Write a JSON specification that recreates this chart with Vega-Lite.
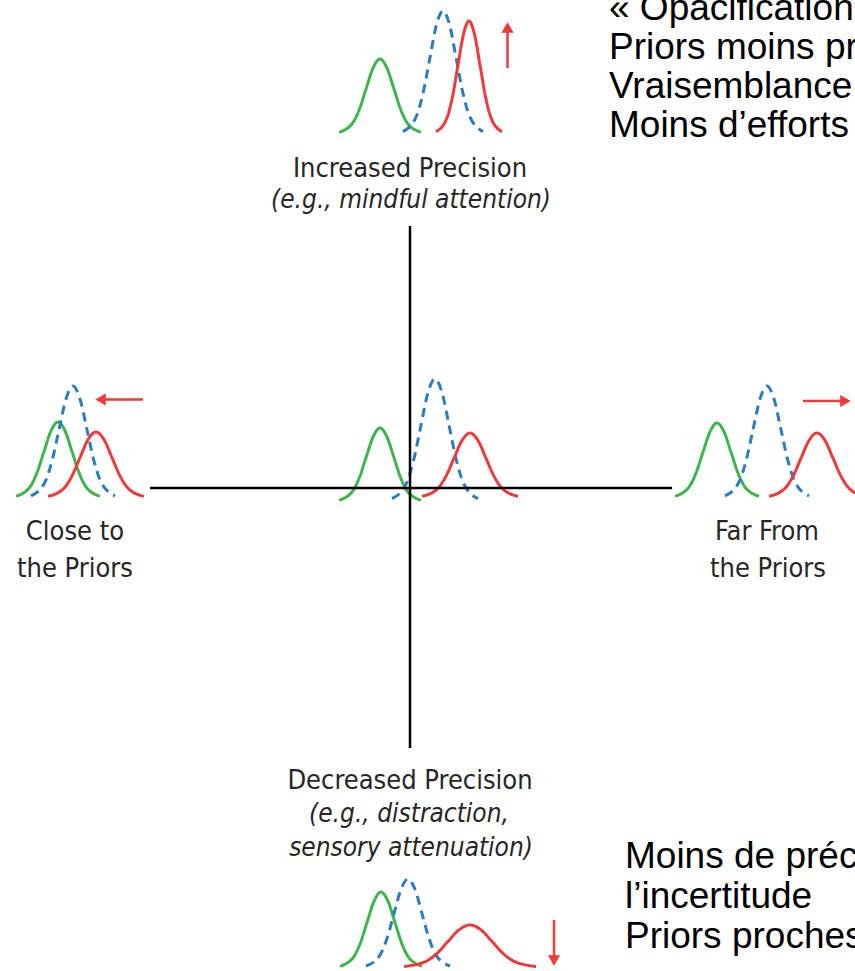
{
  "$schema": "https://vega.github.io/schema/vega-lite/v6.json",
  "width": 855,
  "height": 971,
  "autosize": {"type": "none"},
  "padding": 0,
  "background": "white",
  "config": {"view": {"stroke": null}},
  "datasets": {
    "curves": [
      {"c":"t1","s":"prior","x":339,"y":132.2},{"c":"t1","s":"prior","x":352.7,"y":123},{"c":"t1","s":"prior","x":359.5,"y":109},{"c":"t1","s":"prior","x":366.3,"y":88.1},{"c":"t1","s":"prior","x":373.2,"y":67.7},{"c":"t1","s":"prior","x":380,"y":59},{"c":"t1","s":"prior","x":386.8,"y":67.7},{"c":"t1","s":"prior","x":393.7,"y":88.1},{"c":"t1","s":"prior","x":400.5,"y":109},{"c":"t1","s":"prior","x":407.3,"y":123},{"c":"t1","s":"prior","x":421,"y":132.2},
      {"c":"t2","s":"posterior","x":403,"y":131.6},{"c":"t2","s":"posterior","x":416.3,"y":116.5},{"c":"t2","s":"posterior","x":423,"y":93.4},{"c":"t2","s":"posterior","x":429.7,"y":59},{"c":"t2","s":"posterior","x":436.3,"y":25.3},{"c":"t2","s":"posterior","x":443,"y":11},{"c":"t2","s":"posterior","x":449.7,"y":25.3},{"c":"t2","s":"posterior","x":456.3,"y":59},{"c":"t2","s":"posterior","x":463,"y":93.4},{"c":"t2","s":"posterior","x":469.7,"y":116.5},{"c":"t2","s":"posterior","x":483,"y":131.6},
      {"c":"t3","s":"likelihood","x":436,"y":131.8},{"c":"t3","s":"likelihood","x":447,"y":117.8},{"c":"t3","s":"likelihood","x":452.5,"y":96.6},{"c":"t3","s":"likelihood","x":458,"y":65.1},{"c":"t3","s":"likelihood","x":463.5,"y":34.2},{"c":"t3","s":"likelihood","x":469,"y":21},{"c":"t3","s":"likelihood","x":474.5,"y":34.2},{"c":"t3","s":"likelihood","x":480,"y":65.1},{"c":"t3","s":"likelihood","x":485.5,"y":96.6},{"c":"t3","s":"likelihood","x":491,"y":117.8},{"c":"t3","s":"likelihood","x":502,"y":131.8},
      {"c":"l1","s":"prior","x":16,"y":496.2},{"c":"l1","s":"prior","x":30,"y":486.9},{"c":"l1","s":"prior","x":37,"y":472.6},{"c":"l1","s":"prior","x":44,"y":451.5},{"c":"l1","s":"prior","x":51,"y":430.8},{"c":"l1","s":"prior","x":58,"y":422},{"c":"l1","s":"prior","x":65,"y":430.8},{"c":"l1","s":"prior","x":72,"y":451.5},{"c":"l1","s":"prior","x":79,"y":472.6},{"c":"l1","s":"prior","x":86,"y":486.9},{"c":"l1","s":"prior","x":100,"y":496.2},
      {"c":"l2","s":"posterior","x":31,"y":495.8},{"c":"l2","s":"posterior","x":45,"y":482},{"c":"l2","s":"posterior","x":52,"y":461},{"c":"l2","s":"posterior","x":59,"y":429.7},{"c":"l2","s":"posterior","x":66,"y":399},{"c":"l2","s":"posterior","x":73,"y":386},{"c":"l2","s":"posterior","x":80,"y":399},{"c":"l2","s":"posterior","x":87,"y":429.7},{"c":"l2","s":"posterior","x":94,"y":461},{"c":"l2","s":"posterior","x":101,"y":482},{"c":"l2","s":"posterior","x":115,"y":495.8},
      {"c":"l3","s":"likelihood","x":48,"y":496.3},{"c":"l3","s":"likelihood","x":64,"y":488.2},{"c":"l3","s":"likelihood","x":72,"y":475.9},{"c":"l3","s":"likelihood","x":80,"y":457.6},{"c":"l3","s":"likelihood","x":88,"y":439.6},{"c":"l3","s":"likelihood","x":96,"y":432},{"c":"l3","s":"likelihood","x":104,"y":439.6},{"c":"l3","s":"likelihood","x":112,"y":457.6},{"c":"l3","s":"likelihood","x":120,"y":475.9},{"c":"l3","s":"likelihood","x":128,"y":488.2},{"c":"l3","s":"likelihood","x":144,"y":496.3},
      {"c":"c1","s":"prior","x":339,"y":500.2},{"c":"c1","s":"prior","x":352.7,"y":491.1},{"c":"c1","s":"prior","x":359.5,"y":477.3},{"c":"c1","s":"prior","x":366.3,"y":456.7},{"c":"c1","s":"prior","x":373.2,"y":436.6},{"c":"c1","s":"prior","x":380,"y":428},{"c":"c1","s":"prior","x":386.8,"y":436.6},{"c":"c1","s":"prior","x":393.7,"y":456.7},{"c":"c1","s":"prior","x":400.5,"y":477.3},{"c":"c1","s":"prior","x":407.3,"y":491.1},{"c":"c1","s":"prior","x":421,"y":500.2},
      {"c":"c2","s":"posterior","x":392,"y":498.7},{"c":"c2","s":"posterior","x":406.3,"y":483.6},{"c":"c2","s":"posterior","x":413.5,"y":460.7},{"c":"c2","s":"posterior","x":420.7,"y":426.6},{"c":"c2","s":"posterior","x":427.8,"y":393.2},{"c":"c2","s":"posterior","x":435,"y":379},{"c":"c2","s":"posterior","x":442.2,"y":393.2},{"c":"c2","s":"posterior","x":449.3,"y":426.6},{"c":"c2","s":"posterior","x":456.5,"y":460.7},{"c":"c2","s":"posterior","x":463.7,"y":483.6},{"c":"c2","s":"posterior","x":478,"y":498.7},
      {"c":"c3","s":"likelihood","x":422,"y":496.3},{"c":"c3","s":"likelihood","x":438,"y":488.3},{"c":"c3","s":"likelihood","x":446,"y":476.2},{"c":"c3","s":"likelihood","x":454,"y":458.2},{"c":"c3","s":"likelihood","x":462,"y":440.5},{"c":"c3","s":"likelihood","x":470,"y":433},{"c":"c3","s":"likelihood","x":478,"y":440.5},{"c":"c3","s":"likelihood","x":486,"y":458.2},{"c":"c3","s":"likelihood","x":494,"y":476.2},{"c":"c3","s":"likelihood","x":502,"y":488.3},{"c":"c3","s":"likelihood","x":518,"y":496.3},
      {"c":"r1","s":"prior","x":675,"y":496.2},{"c":"r1","s":"prior","x":689,"y":487},{"c":"r1","s":"prior","x":696,"y":473},{"c":"r1","s":"prior","x":703,"y":452.1},{"c":"r1","s":"prior","x":710,"y":431.7},{"c":"r1","s":"prior","x":717,"y":423},{"c":"r1","s":"prior","x":724,"y":431.7},{"c":"r1","s":"prior","x":731,"y":452.1},{"c":"r1","s":"prior","x":738,"y":473},{"c":"r1","s":"prior","x":745,"y":487},{"c":"r1","s":"prior","x":759,"y":496.2},
      {"c":"r2","s":"posterior","x":725,"y":495.8},{"c":"r2","s":"posterior","x":739,"y":482},{"c":"r2","s":"posterior","x":746,"y":461},{"c":"r2","s":"posterior","x":753,"y":429.7},{"c":"r2","s":"posterior","x":760,"y":399},{"c":"r2","s":"posterior","x":767,"y":386},{"c":"r2","s":"posterior","x":774,"y":399},{"c":"r2","s":"posterior","x":781,"y":429.7},{"c":"r2","s":"posterior","x":788,"y":461},{"c":"r2","s":"posterior","x":795,"y":482},{"c":"r2","s":"posterior","x":809,"y":495.8},
      {"c":"r3","s":"likelihood","x":769,"y":496.3},{"c":"r3","s":"likelihood","x":785,"y":488.3},{"c":"r3","s":"likelihood","x":793,"y":476.2},{"c":"r3","s":"likelihood","x":801,"y":458.2},{"c":"r3","s":"likelihood","x":809,"y":440.5},{"c":"r3","s":"likelihood","x":817,"y":433},{"c":"r3","s":"likelihood","x":825,"y":440.5},{"c":"r3","s":"likelihood","x":833,"y":458.2},{"c":"r3","s":"likelihood","x":841,"y":476.2},{"c":"r3","s":"likelihood","x":849,"y":488.3},{"c":"r3","s":"likelihood","x":865,"y":496.3},
      {"c":"b1","s":"prior","x":340,"y":966.2},{"c":"b1","s":"prior","x":353.7,"y":956.9},{"c":"b1","s":"prior","x":360.5,"y":942.6},{"c":"b1","s":"prior","x":367.3,"y":921.5},{"c":"b1","s":"prior","x":374.2,"y":900.8},{"c":"b1","s":"prior","x":381,"y":892},{"c":"b1","s":"prior","x":387.8,"y":900.8},{"c":"b1","s":"prior","x":394.7,"y":921.5},{"c":"b1","s":"prior","x":401.5,"y":942.6},{"c":"b1","s":"prior","x":408.3,"y":956.9},{"c":"b1","s":"prior","x":422,"y":966.2},
      {"c":"b2","s":"posterior","x":366,"y":966},{"c":"b2","s":"posterior","x":380,"y":955.1},{"c":"b2","s":"posterior","x":387,"y":938.4},{"c":"b2","s":"posterior","x":394,"y":913.6},{"c":"b2","s":"posterior","x":401,"y":889.3},{"c":"b2","s":"posterior","x":408,"y":879},{"c":"b2","s":"posterior","x":415,"y":889.3},{"c":"b2","s":"posterior","x":422,"y":913.6},{"c":"b2","s":"posterior","x":429,"y":938.4},{"c":"b2","s":"posterior","x":436,"y":955.1},{"c":"b2","s":"posterior","x":450,"y":966},
      {"c":"b3","s":"likelihood","x":404,"y":966.5},{"c":"b3","s":"likelihood","x":426,"y":961.3},{"c":"b3","s":"likelihood","x":437,"y":953.4},{"c":"b3","s":"likelihood","x":448,"y":941.5},{"c":"b3","s":"likelihood","x":459,"y":929.9},{"c":"b3","s":"likelihood","x":470,"y":925},{"c":"b3","s":"likelihood","x":481,"y":929.9},{"c":"b3","s":"likelihood","x":492,"y":941.5},{"c":"b3","s":"likelihood","x":503,"y":953.4},{"c":"b3","s":"likelihood","x":514,"y":961.3},{"c":"b3","s":"likelihood","x":536,"y":966.5}
    ],
    "axes": [
      {"x":410,"y":226,"x2":410,"y2":748},
      {"x":150,"y":488,"x2":672,"y2":488}
    ],
    "shafts": [
      {"x":507.5,"y":68,"x2":507.5,"y2":31},
      {"x":143,"y":399.5,"x2":104,"y2":399.5},
      {"x":803,"y":401,"x2":842,"y2":401},
      {"x":554,"y":920,"x2":554,"y2":957}
    ],
    "heads": [
      {"dir":"up","x":507.5,"y":27.5},
      {"dir":"left","x":100.5,"y":399.5},
      {"dir":"right","x":845.5,"y":401},
      {"dir":"down","x":554,"y":960.5}
    ],
    "labels": [
      {"kind":"title","text":"Increased Precision","x":410,"y":177},
      {"kind":"example","text":"(e.g., mindful attention)","x":411,"y":208},
      {"kind":"title","text":"Close to","x":75,"y":540},
      {"kind":"title","text":"the Priors","x":75,"y":577},
      {"kind":"title","text":"Far From","x":767,"y":540},
      {"kind":"title","text":"the Priors","x":768,"y":577},
      {"kind":"title","text":"Decreased Precision","x":410,"y":789},
      {"kind":"example","text":"(e.g., distraction,","x":409,"y":822},
      {"kind":"example","text":"sensory attenuation)","x":411,"y":856}
    ],
    "notes": [
      {"text":"« Opacification »","x":609,"y":20},
      {"text":"Priors moins précis","x":609,"y":59},
      {"text":"Vraisemblance plus précise","x":609,"y":98},
      {"text":"Moins d’efforts","x":609,"y":137},
      {"text":"Moins de précision,","x":625,"y":868},
      {"text":"l’incertitude","x":625,"y":908},
      {"text":"Priors proches","x":625,"y":948}
    ]
  },
  "encoding": {
    "x": {"field":"x","type":"quantitative","scale":{"domain":[0,855],"nice":false,"zero":false},"axis":null},
    "y": {"field":"y","type":"quantitative","scale":{"domain":[0,971],"reverse":true,"nice":false,"zero":false},"axis":null}
  },
  "layer": [
    {
      "data": {"name":"curves"},
      "mark": {"type":"line","interpolate":"monotone","strokeWidth":3,"clip":true},
      "encoding": {
        "detail": {"field":"c"},
        "color": {"field":"s","type":"nominal","scale":{"domain":["prior","posterior","likelihood"],"range":["#3cb54a","#2a7cc4","#ee3a3a"]},"legend":null},
        "strokeDash": {"field":"s","type":"nominal","scale":{"domain":["prior","posterior","likelihood"],"range":[[1,0],[9,6],[1,0]]},"legend":null}
      }
    },
    {
      "data": {"name":"axes"},
      "mark": {"type":"rule","color":"#000000","strokeWidth":2.5},
      "encoding": {"x2":{"field":"x2"},"y2":{"field":"y2"}}
    },
    {
      "data": {"name":"shafts"},
      "mark": {"type":"rule","color":"#ee3a3a","strokeWidth":2.5},
      "encoding": {"x2":{"field":"x2"},"y2":{"field":"y2"}}
    },
    {
      "data": {"name":"heads"},
      "mark": {"type":"point","filled":true,"opacity":1,"color":"#ee3a3a","size":150},
      "encoding": {
        "shape": {"field":"dir","type":"nominal","scale":{"domain":["up","down","left","right"],"range":["triangle-up","triangle-down","triangle-left","triangle-right"]},"legend":null}
      }
    },
    {
      "data": {"name":"labels"},
      "transform": [{"filter":"datum.kind === 'title'"}],
      "mark": {"type":"text","align":"center","baseline":"alphabetic","font":"DejaVu Sans Condensed, DejaVu Sans","fontSize":27,"color":"#262626"},
      "encoding": {"text":{"field":"text"}}
    },
    {
      "data": {"name":"labels"},
      "transform": [{"filter":"datum.kind === 'example'"}],
      "mark": {"type":"text","align":"center","baseline":"alphabetic","font":"DejaVu Sans Condensed, DejaVu Sans","fontStyle":"italic","fontSize":26,"color":"#262626"},
      "encoding": {"text":{"field":"text"}}
    },
    {
      "data": {"name":"notes"},
      "mark": {"type":"text","align":"left","baseline":"alphabetic","font":"Liberation Sans, Arial","fontSize":37,"color":"#000000"},
      "encoding": {"text":{"field":"text"}}
    }
  ]
}
